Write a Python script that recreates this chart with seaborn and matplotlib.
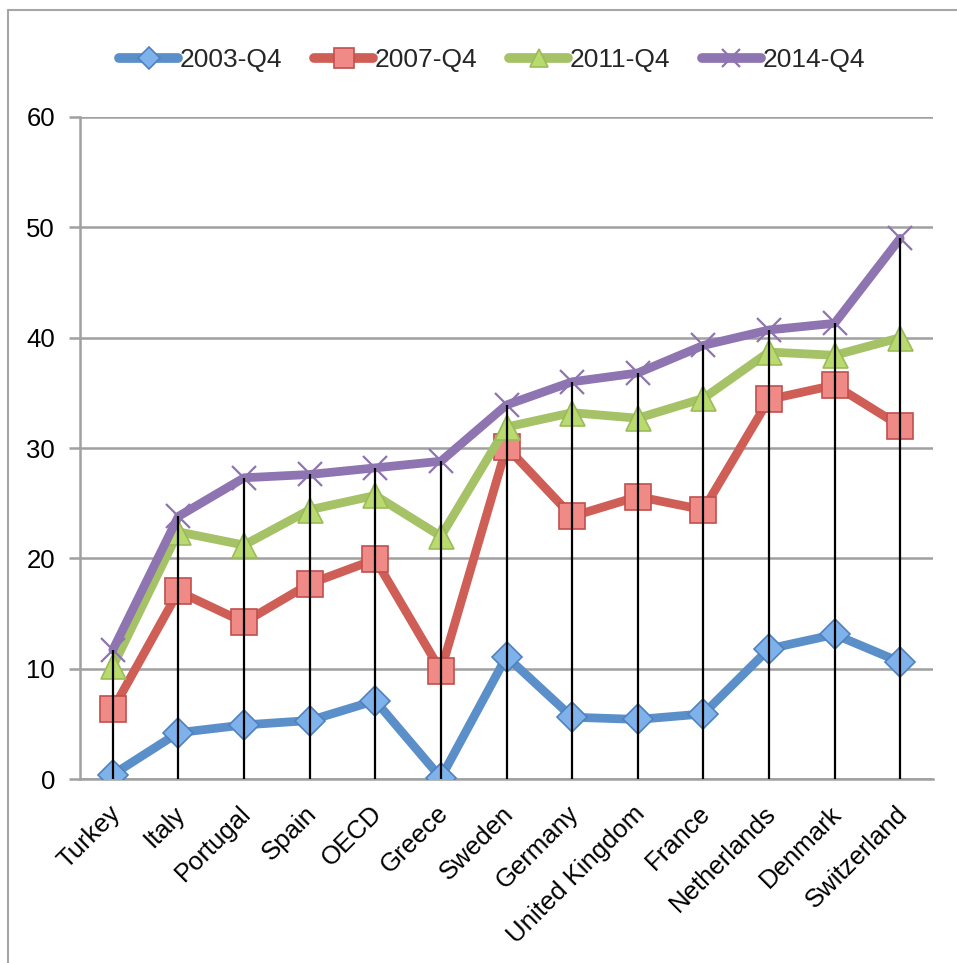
import matplotlib
matplotlib.use("Agg")
import matplotlib.pyplot as plt
import matplotlib.transforms as mtransforms
import seaborn as sns
import pandas as pd
from matplotlib.patches import Rectangle

countries = ["Turkey", "Italy", "Portugal", "Spain", "OECD", "Greece", "Sweden",
             "Germany", "United Kingdom", "France", "Netherlands", "Denmark", "Switzerland"]
s2003 = [0.4, 4.2, 4.9, 5.3, 7.1, 0.1, 11.1, 5.6, 5.4, 5.9, 11.8, 13.1, 10.6]
s2007 = [6.3, 17.0, 14.2, 17.7, 19.9, 9.8, 30.1, 23.8, 25.6, 24.4, 34.4, 35.7, 32.0]
s2011 = [10.2, 22.4, 21.2, 24.4, 25.7, 22.0, 31.9, 33.2, 32.7, 34.5, 38.7, 38.4, 40.0]
s2014 = [11.7, 23.8, 27.3, 27.6, 28.2, 28.8, 33.9, 36.0, 36.8, 39.3, 40.7, 41.3, 49.0]
series_names = ["2003-Q4", "2007-Q4", "2011-Q4", "2014-Q4"]
yticks = [0, 10, 20, 30, 40, 50, 60]

sns.set_theme(style="white")
plt.rcParams['font.family'] = ['Liberation Sans', 'DejaVu Sans']

fig = plt.figure(figsize=(9.57, 9.63), dpi=100)
fig.patches.append(Rectangle((8/957, -0.1), 2.0, 1 - 10/963 + 0.1, transform=fig.transFigure,
                             fill=False, edgecolor="#A6A6A6", linewidth=1.5, zorder=0))
ax = fig.add_axes([80/957, 1 - 779/963, (933 - 80)/957, (779 - 117)/963])

styles = [
    dict(color="#5B8FC9", marker="D", mfc="#7FB2EA", mec="#4F81BD", ms=15, mew=1.2),
    dict(color="#CF5F56", marker="s", mfc="#F08A86", mec="#C0504D", ms=18.5, mew=1.2),
    dict(color="#A5C266", marker="^", mfc="#B9DA6E", mec="#9BBB59", ms=18, mew=1.2),
    dict(color="#8E74B0", marker="x", mfc="#8E74B0", mec="#8E74B0", ms=17, mew=1.6),
]
data = [s2003, s2007, s2011, s2014]
for name, vals, st in zip(series_names, data, styles):
    df = pd.DataFrame({"country": countries, "value": vals})
    sns.lineplot(data=df, x="country", y="value", ax=ax, sort=False, label=name,
                 color=st["color"], linewidth=6.3, marker=st["marker"],
                 markerfacecolor=st["mfc"], markeredgecolor=st["mec"],
                 markersize=st["ms"], markeredgewidth=st["mew"],
                 solid_capstyle="round", solid_joinstyle="round", zorder=3)

# drop lines from highest series to zero
ax.vlines(countries, 0, s2014, colors="black", linewidth=1.6, zorder=5)

ax.set_xlim(-0.5, 12.5)
ax.set_ylim(0, 60)
ax.set_yticks(yticks)
ax.set_yticklabels([str(v) for v in yticks], fontsize=18.5)
ax.yaxis.grid(True, color="#A0A0A0", linewidth=1.8)
ax.xaxis.grid(False)
ax.set_axisbelow(True)
ax.set_xlabel("")
ax.set_ylabel("")
for s in ["top", "right"]:
    ax.spines[s].set_visible(False)
for s in ["left", "bottom"]:
    ax.spines[s].set_color("#A0A0A0")
    ax.spines[s].set_linewidth(1.8)
ax.tick_params(axis="y", which="both", left=True, length=8, width=1.8, color="#A0A0A0",
               pad=10, labelcolor="black")
ax.tick_params(axis="x", bottom=False, pad=10)
ax.set_xticks(range(len(countries)))
ax.set_xticklabels(countries, rotation=45, ha="right", rotation_mode="anchor",
                   fontsize=18.5, color="black")
shift = mtransforms.ScaledTranslation(-5/100, 0, fig.dpi_scale_trans)
for lbl in ax.get_xticklabels():
    lbl.set_transform(lbl.get_transform() + shift)

leg = ax.legend(loc="center", bbox_to_anchor=(492/957, 1 - 60/963), bbox_transform=fig.transFigure,
                ncol=4, frameon=False, fontsize=19,
                handlelength=2.25, handletextpad=0.05, columnspacing=1.2, markerscale=0.75)
for line in leg.get_lines():
    line.set_linewidth(7)

fig.savefig("out.png", dpi=100, facecolor="white")
